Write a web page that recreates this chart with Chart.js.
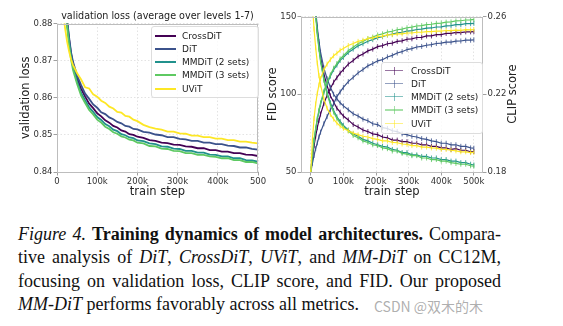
<!DOCTYPE html>
<html>
<head>
<meta charset="utf-8">
<script src="https://cdn.jsdelivr.net/npm/chart.js@4.4.0/dist/chart.umd.min.js"></script>
<style>
  body { margin: 0; background: #fff; width: 563px; height: 326px; overflow: hidden; position: relative; font-family: "DejaVu Sans", sans-serif; }
  canvas { position: absolute; }
  #lossChart { left: 0; top: 0; }
  #scoreChart { left: 262px; top: 0; }
  .plotTitle { position: absolute; left: 57px; width: 201px; top: 10px; text-align: center; font-size: 9.6px; color: #222; white-space: nowrap; }
  .legend { position: absolute; background: rgba(255,255,255,0.8); border: 1px solid #ddd; border-radius: 3px; font-size: 9px; color: #222; }
  .legend .row { position: absolute; height: 12px; line-height: 12px; white-space: nowrap; }
  .legend .swatch { position: absolute; top: 5px; height: 2px; }
  .legend .tick { position: absolute; width: 1px; height: 8px; top: 2px; }
  .rightLabel { position: absolute; left: 512px; top: 94px; transform: translate(-50%, -50%) rotate(-90deg); font-size: 11.5px; color: #222; white-space: nowrap; }
  #caption { position: absolute; left: 18px; top: 223px; width: 483px; font-family: "Liberation Serif", "Times New Roman", serif; font-size: 18px; line-height: 23.3px; color: #111; }
  #caption .j { text-align: justify; text-align-last: justify; white-space: nowrap; }
  .mark { position: absolute; left: 374px; top: 296px; font-family: "Noto Sans CJK SC", sans-serif; font-size: 14px; color: rgba(140,140,140,0.7); }
</style>
</head>
<body>
<canvas id="lossChart" width="272" height="200"></canvas>
<canvas id="scoreChart" width="270" height="200"></canvas>
<div class="plotTitle">validation loss (average over levels 1-7)</div>
<div class="legend" id="lossLegend" style="left:151px;top:26px;width:106px;height:70px;"></div>
<div class="legend" id="scoreLegend" style="left:381px;top:62px;width:100px;height:70px;"></div>
<div class="rightLabel">CLIP score</div>
<div id="caption">
  <div class="j"><i>Figure 4.</i> <b>Training dynamics of model architectures.</b> Compara-</div>
  <div class="j">tive analysis of <i>DiT</i>, <i>CrossDiT</i>, <i>UViT</i>, and <i>MM-DiT</i> on CC12M,</div>
  <div class="j">focusing on validation loss, CLIP score, and FID. Our proposed</div>
  <div><i>MM-DiT</i> performs favorably across all metrics.</div>
</div>
<div class="mark">CSDN @双木的木</div>
<script>
const MODELS = ['CrossDiT', 'DiT', 'MMDiT (2 sets)', 'MMDiT (3 sets)', 'UViT'];
const COLORS = ['#440154', '#3b528b', '#21918c', '#5ec962', '#fde725'];

// left panel: validation loss, train step in k
const LOSS_STEPS = [15,20,25,30,35,40,50,60,70,80,90,100,110,120,130,140,150,160,170,180,190,200,215,230,245,260,275,290,305,320,335,350,365,380,395,410,425,440,455,470,485,500];
const LOSS_CROSSDIT = [0.8920,0.8855,0.8808,0.8758,0.8718,0.8690,0.8652,0.8624,0.8603,0.8584,0.8572,0.8558,0.8550,0.8539,0.8533,0.8524,0.8520,0.8512,0.8509,0.8502,0.8500,0.8495,0.8492,0.8486,0.8484,0.8479,0.8478,0.8474,0.8473,0.8469,0.8468,0.8464,0.8464,0.8459,0.8459,0.8455,0.8455,0.8451,0.8451,0.8447,0.8446,0.8443];
const LOSS_DIT = [0.8930,0.8862,0.8813,0.8763,0.8722,0.8696,0.8660,0.8634,0.8611,0.8597,0.8582,0.8573,0.8561,0.8556,0.8547,0.8542,0.8535,0.8531,0.8524,0.8522,0.8516,0.8515,0.8508,0.8506,0.8501,0.8499,0.8494,0.8494,0.8489,0.8488,0.8484,0.8484,0.8479,0.8479,0.8475,0.8475,0.8471,0.8470,0.8466,0.8466,0.8462,0.8460];
const LOSS_MMDIT2 = [0.8915,0.8850,0.8800,0.8750,0.8711,0.8682,0.8644,0.8613,0.8593,0.8574,0.8562,0.8548,0.8540,0.8529,0.8523,0.8514,0.8510,0.8502,0.8499,0.8493,0.8491,0.8485,0.8483,0.8477,0.8475,0.8469,0.8468,0.8463,0.8462,0.8457,0.8457,0.8452,0.8452,0.8447,0.8446,0.8442,0.8442,0.8437,0.8437,0.8432,0.8431,0.8428];
const LOSS_MMDIT3 = [0.8910,0.8845,0.8793,0.8742,0.8703,0.8674,0.8637,0.8606,0.8586,0.8567,0.8555,0.8541,0.8533,0.8522,0.8516,0.8507,0.8503,0.8496,0.8493,0.8487,0.8485,0.8479,0.8477,0.8470,0.8469,0.8463,0.8462,0.8457,0.8456,0.8451,0.8451,0.8446,0.8446,0.8442,0.8441,0.8437,0.8437,0.8432,0.8432,0.8427,0.8427,0.8423];
const LOSS_UVIT = [0.8830,0.8788,0.8752,0.8725,0.8703,0.8688,0.8666,0.8649,0.8628,0.8625,0.8609,0.8603,0.8592,0.8586,0.8576,0.8571,0.8562,0.8560,0.8551,0.8549,0.8541,0.8537,0.8527,0.8521,0.8517,0.8514,0.8509,0.8509,0.8504,0.8503,0.8498,0.8498,0.8494,0.8494,0.8490,0.8490,0.8486,0.8486,0.8482,0.8482,0.8479,0.8477];
const LOSS_XTICKS = [0, 100, 200, 300, 400, 500];
const LOSS_XLABELS = ['0', '100k', '200k', '300k', '400k', '500'];
const LOSS_YTICKS = [0.84, 0.85, 0.86, 0.87, 0.88];

// right panel: FID (left axis) and CLIP (right axis)
const SCORE_STEPS = [0,5,10,15,20,25,30,40,50,60,70,80,90,100,115,130,145,160,175,190,205,220,235,250,265,280,295,310,325,340,355,370,385,400,415,430,445,460,475,490,500];
const FID_CROSSDIT = [null,182,165,152,141,132,124,113,105.5,99,95,91,88.5,86,83.5,80.5,79,77,76,74.5,74,72.5,72,70.5,70.5,69.5,69.5,68.5,68.5,67.5,67.5,66.5,66.5,65.5,65.5,64.5,65,64,64,63,63.2];
const FID_DIT = [null,185,168,154,143,134,127,117,110,104.5,100,97,94.5,92.5,90,87.5,86,84,83,81,80.5,78.5,78,76.5,76,74.5,74,73,72.5,71.5,71,70,69.5,68.5,68.5,67.5,67.5,66.5,66.5,65.5,65.3];
const FID_MMDIT2 = [null,185,167,152,140,130,122,110,101,94.5,89.5,85.5,82.5,80,77,74.5,73,71,70,68.5,67.5,66.5,66,64.5,64,62.5,62.5,61,61,60,60,59,59,58,58,57,57,56,56,55,54.5];
const FID_MMDIT3 = [null,183,165,150,138.5,129,121,109,100,93.5,88.5,84.5,81.5,79,76.5,73.5,72,70,69,67.5,67,65.5,65,63.5,63.5,62,61.5,60.5,60.5,59,59,58,58,57,57,56,55.5,55,55,54,53.8];
const FID_UVIT = [null,158,142,130,120,112,106,97,91,87,84,81.5,79.5,78,76.5,75,74,73,72.5,71.5,71,70,70,69,68.8,68,67.8,67,67,66,66,65.5,65.3,64.5,64.5,64,63.6,63,63,62.5,62.6];
const CLIP_CROSSDIT = [0.180,0.1875,0.1935,0.1985,0.2028,0.2065,0.2098,0.2152,0.2195,0.2230,0.2262,0.2285,0.2309,0.2327,0.2355,0.2374,0.2395,0.2407,0.2423,0.2432,0.2445,0.2450,0.2460,0.2463,0.2472,0.2475,0.2483,0.2485,0.2492,0.2493,0.2500,0.2500,0.2507,0.2507,0.2513,0.2513,0.2518,0.2517,0.2521,0.2521,0.2522];
const CLIP_DIT = [0.180,0.1845,0.1885,0.1920,0.1950,0.1980,0.2005,0.2048,0.2085,0.2120,0.2150,0.2188,0.2212,0.2235,0.2265,0.2287,0.2310,0.2327,0.2346,0.2358,0.2372,0.2378,0.2392,0.2400,0.2412,0.2419,0.2430,0.2435,0.2443,0.2446,0.2452,0.2455,0.2461,0.2463,0.2468,0.2468,0.2473,0.2474,0.2478,0.2478,0.2480];
const CLIP_MMDIT2 = [0.180,0.1888,0.1962,0.2020,0.2070,0.2112,0.2148,0.2208,0.2255,0.2293,0.2327,0.2350,0.2374,0.2390,0.2415,0.2432,0.2449,0.2460,0.2473,0.2481,0.2491,0.2496,0.2505,0.2509,0.2516,0.2519,0.2525,0.2527,0.2533,0.2535,0.2540,0.2541,0.2546,0.2547,0.2552,0.2553,0.2558,0.2558,0.2563,0.2563,0.2565];
const CLIP_MMDIT3 = [0.180,0.1890,0.1965,0.2025,0.2075,0.2118,0.2155,0.2215,0.2262,0.2300,0.2334,0.2358,0.2382,0.2398,0.2424,0.2442,0.2460,0.2472,0.2486,0.2494,0.2505,0.2511,0.2520,0.2524,0.2532,0.2535,0.2542,0.2545,0.2551,0.2553,0.2558,0.2560,0.2565,0.2566,0.2571,0.2572,0.2577,0.2578,0.2582,0.2583,0.2585];
const CLIP_UVIT = [0.180,0.1965,0.2075,0.2150,0.2205,0.2248,0.2280,0.2325,0.2355,0.2378,0.2398,0.2411,0.2426,0.2435,0.2451,0.2461,0.2472,0.2478,0.2486,0.2490,0.2497,0.2499,0.2505,0.2506,0.2511,0.2511,0.2515,0.2515,0.2519,0.2519,0.2522,0.2522,0.2525,0.2525,0.2528,0.2527,0.2530,0.2529,0.2532,0.2531,0.2532];
const SCORE_XTICKS = [0, 100, 200, 300, 400, 500];
const SCORE_XLABELS = ['0', '100k', '200k', '300k', '400k', '500k'];
const FID_TICKS = [50, 100, 150];
const CLIP_TICKS = [0.18, 0.22, 0.26];

const LOSS = [LOSS_CROSSDIT, LOSS_DIT, LOSS_MMDIT2, LOSS_MMDIT3, LOSS_UVIT];
const FID = [FID_CROSSDIT, FID_DIT, FID_MMDIT2, FID_MMDIT3, FID_UVIT];
const CLIP = [CLIP_CROSSDIT, CLIP_DIT, CLIP_MMDIT2, CLIP_MMDIT3, CLIP_UVIT];

const SPINE = '#bdbdbd';
const GRID = '#dcdcdc';
const TICK_TEXT = '#333';

// box around the plot area, like matplotlib spines
const framePlugin = {
  id: 'frame',
  afterDatasetsDraw(chart) {
    const { ctx, chartArea: a } = chart;
    ctx.save();
    ctx.strokeStyle = SPINE;
    ctx.lineWidth = 1;
    ctx.strokeRect(Math.round(a.left) + 0.5, Math.round(a.top) + 0.5, Math.round(a.width) - 1, Math.round(a.height) - 1);
    ctx.restore();
  }
};

const toPoints = (xs, ys) => xs.map((x, i) => ({ x: x, y: ys[i] }));

const gridOpts = (onArea) => ({
  drawOnChartArea: onArea,
  color: GRID,
  lineWidth: 0.8,
  tickLength: 3.5,
  tickColor: '#888',
  tickWidth: 0.8,
  tickBorderDash: []
});

const tickFont = { family: 'DejaVu Sans', size: 8.5 };
const labelFont = { family: 'DejaVu Sans', size: 11.5 };

Chart.defaults.animation = false;

new Chart(document.getElementById('lossChart'), {
  type: 'line',
  data: {
    datasets: MODELS.map((name, i) => ({
      label: name,
      data: toPoints(LOSS_STEPS, LOSS[i]),
      borderColor: COLORS[i],
      borderWidth: 1.8,
      pointRadius: 0,
      tension: 0,
      fill: false,
      order: MODELS.length - i
    }))
  },
  options: {
    responsive: false,
    layout: { padding: { top: 23.5, right: 14, left: 0, bottom: 0 } },
    plugins: { legend: { display: false }, tooltip: { enabled: false } },
    scales: {
      x: {
        type: 'linear', min: 0, max: 500,
        afterBuildTicks: (s) => { s.ticks = LOSS_XTICKS.map(v => ({ value: v })); },
        afterFit: (s) => { s.height = 28; },
        ticks: { callback: (v, i) => LOSS_XLABELS[i], font: tickFont, color: TICK_TEXT, padding: 1, maxRotation: 0, autoSkip: false },
        grid: gridOpts(true),
        border: { display: false, dash: [1.5, 2] },
        title: { display: true, text: 'train step', font: labelFont, color: '#222', padding: { top: 0, bottom: 1 } }
      },
      y: {
        min: 0.84, max: 0.88,
        afterBuildTicks: (s) => { s.ticks = LOSS_YTICKS.map(v => ({ value: v })); },
        afterFit: (s) => { s.width = 57; },
        ticks: { callback: (v) => v.toFixed(2), font: tickFont, color: TICK_TEXT, padding: 1 },
        grid: gridOpts(true),
        border: { display: false, dash: [1.5, 2] },
        title: { display: true, text: 'validation loss', font: labelFont, color: '#222', padding: { top: 19, bottom: 0 } }
      }
    }
  },
  plugins: [framePlugin]
});

const scoreSets = [];
MODELS.forEach((name, i) => {
  const common = {
    borderColor: COLORS[i],
    borderWidth: 1.2,
    pointStyle: 'line',
    pointRotation: 90,
    pointRadius: 2.5,
    pointBorderWidth: 0.8,
    pointBorderColor: COLORS[i],
    tension: 0,
    fill: false,
    order: MODELS.length - i
  };
  scoreSets.push(Object.assign({ label: name + ' FID', data: toPoints(SCORE_STEPS, FID[i]), yAxisID: 'y' }, common));
  scoreSets.push(Object.assign({ label: name + ' CLIP', data: toPoints(SCORE_STEPS, CLIP[i]), yAxisID: 'y1' }, common));
});

new Chart(document.getElementById('scoreChart'), {
  type: 'line',
  data: { datasets: scoreSets },
  options: {
    responsive: false,
    layout: { padding: { top: 16.5, right: 0, left: 0, bottom: 0 } },
    plugins: { legend: { display: false }, tooltip: { enabled: false } },
    scales: {
      x: {
        type: 'linear', min: -30, max: 528,
        afterBuildTicks: (s) => { s.ticks = SCORE_XTICKS.map(v => ({ value: v })); },
        afterFit: (s) => { s.height = 28; },
        ticks: { callback: (v, i) => SCORE_XLABELS[i], font: tickFont, color: TICK_TEXT, padding: 1, maxRotation: 0, autoSkip: false },
        grid: gridOpts(true),
        border: { display: false, dash: [1.5, 2] },
        title: { display: true, text: 'train step', font: labelFont, color: '#222', padding: { top: 0, bottom: 1 } }
      },
      y: {
        position: 'left', min: 50, max: 150,
        afterBuildTicks: (s) => { s.ticks = FID_TICKS.map(v => ({ value: v })); },
        afterFit: (s) => { s.width = 39; },
        ticks: { font: tickFont, color: TICK_TEXT, padding: 1 },
        grid: gridOpts(true),
        border: { display: false, dash: [1.5, 2] },
        title: { display: true, text: 'FID score', font: labelFont, color: '#222', padding: { top: 4, bottom: 0 } }
      },
      y1: {
        position: 'right', min: 0.18, max: 0.26,
        afterBuildTicks: (s) => { s.ticks = CLIP_TICKS.map(v => ({ value: v })); },
        afterFit: (s) => { s.width = 49; },
        ticks: { callback: (v) => v.toFixed(2), font: tickFont, color: TICK_TEXT, padding: 1 },
        grid: gridOpts(false),
        border: { display: false }
      }
    }
  },
  plugins: [framePlugin]
});

// legends
function buildLegend(el, first, pitch, errorBar) {
  MODELS.forEach((name, i) => {
    const row = document.createElement('div');
    row.className = 'row';
    row.style.left = '0px';
    row.style.top = (first + i * pitch - 6) + 'px';
    row.style.width = '100%';
    const sw = document.createElement('span');
    sw.className = 'swatch';
    sw.style.left = '3px';
    sw.style.width = (errorBar ? 18 : 21) + 'px';
    sw.style.background = COLORS[i];
    if (errorBar) {
      sw.style.opacity = '0.55';
      sw.style.height = '1.3px';
      const t = document.createElement('span');
      t.className = 'tick';
      t.style.left = '12px';
      t.style.background = COLORS[i];
      t.style.opacity = '0.55';
      row.appendChild(t);
    }
    const txt = document.createElement('span');
    txt.textContent = name;
    txt.style.position = 'absolute';
    txt.style.left = (errorBar ? 29 : 30) + 'px';
    row.appendChild(sw);
    row.appendChild(txt);
    el.appendChild(row);
  });
}
buildLegend(document.getElementById('lossLegend'), 8.5, 13.3, false);
buildLegend(document.getElementById('scoreLegend'), 7.5, 13.3, true);
</script>
</body>
</html>
